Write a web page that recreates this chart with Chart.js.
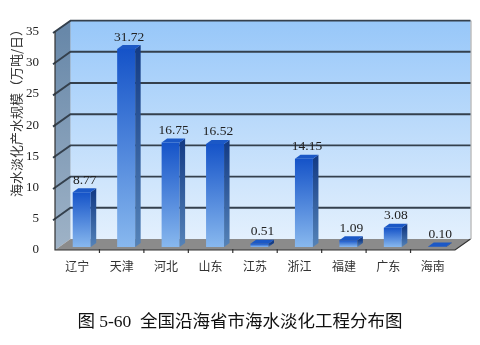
<!DOCTYPE html>
<html>
<head>
<meta charset="utf-8">
<script src="https://cdn.jsdelivr.net/npm/chart.js@4.4.0/dist/chart.umd.min.js"></script>
<style>
  html, body { margin: 0; padding: 0; background: #fff; }
  #wrap { width: 480px; height: 345px; position: relative; }
</style>
</head>
<body>
<div id="wrap"><canvas id="c"></canvas></div>
<script>
// data
const provinces = ['辽宁', '天津', '河北', '山东', '江苏', '浙江', '福建', '广东', '海南'];
const capacity = [8.77, 31.72, 16.75, 16.52, 0.51, 14.15, 1.09, 3.08, 0.10];
const yMax = 35;
const yStep = 5;
const yTitle = '海水淡化产水规模（万吨/日）';
const caption = '图 5-60  全国沿海省市海水淡化工程分布图';

// 3D offsets relative to the plane where the bar fronts sit (= chart area)
const FRONT = { dx: -4.5, dy: 3 };
const BACK = { dx: 11, dy: -8 };
const BAR_DEPTH = { dx: 5.5, dy: -4 };

function poly(ctx, pts, fill) {
    ctx.beginPath();
    ctx.moveTo(pts[0][0], pts[0][1]);
    for (let i = 1; i < pts.length; i++) ctx.lineTo(pts[i][0], pts[i][1]);
    ctx.closePath();
    ctx.fillStyle = fill;
    ctx.fill();
}

const walls = {
    id: 'walls',
    beforeDatasetsDraw(chart) {
        const { ctx, chartArea: a, scales: { x, y } } = chart;
        const fl = a.left + FRONT.dx, fr = a.right + FRONT.dx;
        const bl = a.left + BACK.dx, br = a.right + BACK.dx;
        const fy = v => y.getPixelForValue(v) + FRONT.dy;
        const by = v => y.getPixelForValue(v) + BACK.dy;
        ctx.save();

        // back wall
        let g = ctx.createLinearGradient(0, by(y.max), 0, by(0));
        g.addColorStop(0, '#97c7f9');
        g.addColorStop(1, '#e3f0fd');
        ctx.fillStyle = g;
        ctx.fillRect(bl, by(y.max), br - bl, by(0) - by(y.max));
        ctx.strokeStyle = '#a0a0a0';
        ctx.lineWidth = 1;
        ctx.beginPath();
        ctx.moveTo(br + 0.5, by(y.max));
        ctx.lineTo(br + 0.5, by(0));
        ctx.stroke();

        // left side wall
        g = ctx.createLinearGradient(0, fy(y.max), 0, fy(0));
        g.addColorStop(0, '#6888a9');
        g.addColorStop(1, '#9fb3c7');
        poly(ctx, [[fl, fy(y.max)], [bl, by(y.max)], [bl, by(0)], [fl, fy(0)]], g);

        // floor
        poly(ctx, [[fl, fy(0)], [fr, fy(0)], [br, by(0)], [bl, by(0)]], '#8b8b8b');

        // grid lines on side + back wall
        ctx.strokeStyle = '#34404d';
        ctx.lineWidth = 1.9;
        y.ticks.forEach(t => {
            if (t.value === 0) return;
            ctx.beginPath();
            ctx.moveTo(fl - 2, fy(t.value) + 1.4);
            ctx.lineTo(bl, by(t.value));
            ctx.lineTo(br, by(t.value));
            ctx.stroke();
        });

        // front axis, floor edges, category ticks
        ctx.strokeStyle = '#333';
        ctx.lineWidth = 1.2;
        ctx.beginPath();
        ctx.moveTo(fl, fy(y.max));
        ctx.lineTo(fl, fy(0));
        ctx.lineTo(fr, fy(0));
        ctx.lineTo(br, by(0));
        ctx.stroke();
        ctx.beginPath();
        for (let i = 1; i < provinces.length; i++) {
            const bx = (x.getPixelForValue(i - 1) + x.getPixelForValue(i)) / 2 + FRONT.dx;
            ctx.moveTo(bx, fy(0) - 1);
            ctx.lineTo(bx, fy(0) + 3);
        }
        ctx.stroke();
        ctx.restore();
    }
};

const bars3d = {
    id: 'bars3d',
    afterDatasetsDraw(chart) {
        const { ctx } = chart;
        const meta = chart.getDatasetMeta(0);
        ctx.save();
        meta.data.forEach((bar, i) => {
            const p = bar.getProps(['x', 'y', 'base', 'width'], true);
            const l = p.x - p.width / 2, r = p.x + p.width / 2;
            const t = p.y, b = p.base;
            const dx = BAR_DEPTH.dx, dy = BAR_DEPTH.dy;

            // side face
            let g = ctx.createLinearGradient(0, t, 0, b);
            g.addColorStop(0, '#143c86');
            g.addColorStop(1, '#5583b8');
            poly(ctx, [[r, t], [r + dx, t + dy], [r + dx, b + dy], [r, b]], b - t < 1.5 ? '#143c86' : g);

            // top face
            poly(ctx, [[l, t], [r, t], [r + dx, t + dy], [l + dx, t + dy]], '#1b58c6');

            // value label
            ctx.fillStyle = '#222';
            ctx.font = '13.5px "Liberation Serif", "Times New Roman", serif';
            ctx.textAlign = 'center';
            ctx.textBaseline = 'middle';
            ctx.fillText(capacity[i].toFixed(2), p.x + 3, t - 12);
        });
        ctx.restore();
    }
};

const texts = {
    id: 'texts',
    afterDraw(chart) {
        const { ctx } = chart;
        ctx.save();
        ctx.fillStyle = '#333';
        ctx.textAlign = 'center';
        ctx.textBaseline = 'middle';
        ctx.font = '13px "Noto Sans CJK SC"';
        ctx.translate(16, 110);
        ctx.rotate(-Math.PI / 2);
        ctx.fillText(yTitle, 0, 0);
        ctx.restore();

        ctx.save();
        ctx.fillStyle = '#111';
        ctx.textAlign = 'center';
        ctx.textBaseline = 'middle';
        ctx.font = '17.5px "Liberation Serif", "Noto Sans CJK SC"';
        ctx.fillText(caption, 240, 322);
        ctx.restore();
    }
};

new Chart(document.getElementById('c'), {
    type: 'bar',
    data: {
        labels: provinces,
        datasets: [{
            data: capacity,
            barPercentage: 0.405,
            categoryPercentage: 1,
            borderWidth: 0,
            backgroundColor(c) {
                const ch = c.chart;
                if (!ch.chartArea || c.type !== 'data') return '#3a78d8';
                const ys = ch.scales.y;
                const t = ys.getPixelForValue(c.raw), b = ys.getPixelForValue(0);
                if (b - t < 1.5) return '#1a56c6';
                const g = ch.ctx.createLinearGradient(0, t, 0, b);
                g.addColorStop(0, '#1553c8');
                g.addColorStop(1, '#88b8ee');
                return g;
            }
        }]
    },
    options: {
        responsive: true,
        maintainAspectRatio: false,
        animation: false,
        layout: { padding: { left: 19.5, right: 20.5, top: 28.6, bottom: 48 } },
        plugins: {
            legend: { display: false },
            tooltip: { enabled: false }
        },
        scales: {
            x: {
                grid: { display: false, drawTicks: false },
                border: { display: false },
                ticks: {
                    color: '#333',
                    font: { family: '"Noto Sans CJK SC"', size: 12 },
                    padding: 12,
                    labelOffset: FRONT.dx,
                    maxRotation: 0,
                    autoSkip: false
                },
                afterFit(s) { s.height = 50; }
            },
            y: {
                min: 0,
                max: yMax,
                grid: { display: false, drawTicks: false },
                border: { display: false },
                ticks: {
                    stepSize: yStep,
                    color: '#222',
                    font: { family: '"Liberation Serif"', size: 13 },
                    padding: 20.5,
                    labelOffset: FRONT.dy
                },
                afterFit(s) { s.width = 40; }
            }
        }
    },
    plugins: [walls, bars3d, texts]
});
</script>
</body>
</html>
